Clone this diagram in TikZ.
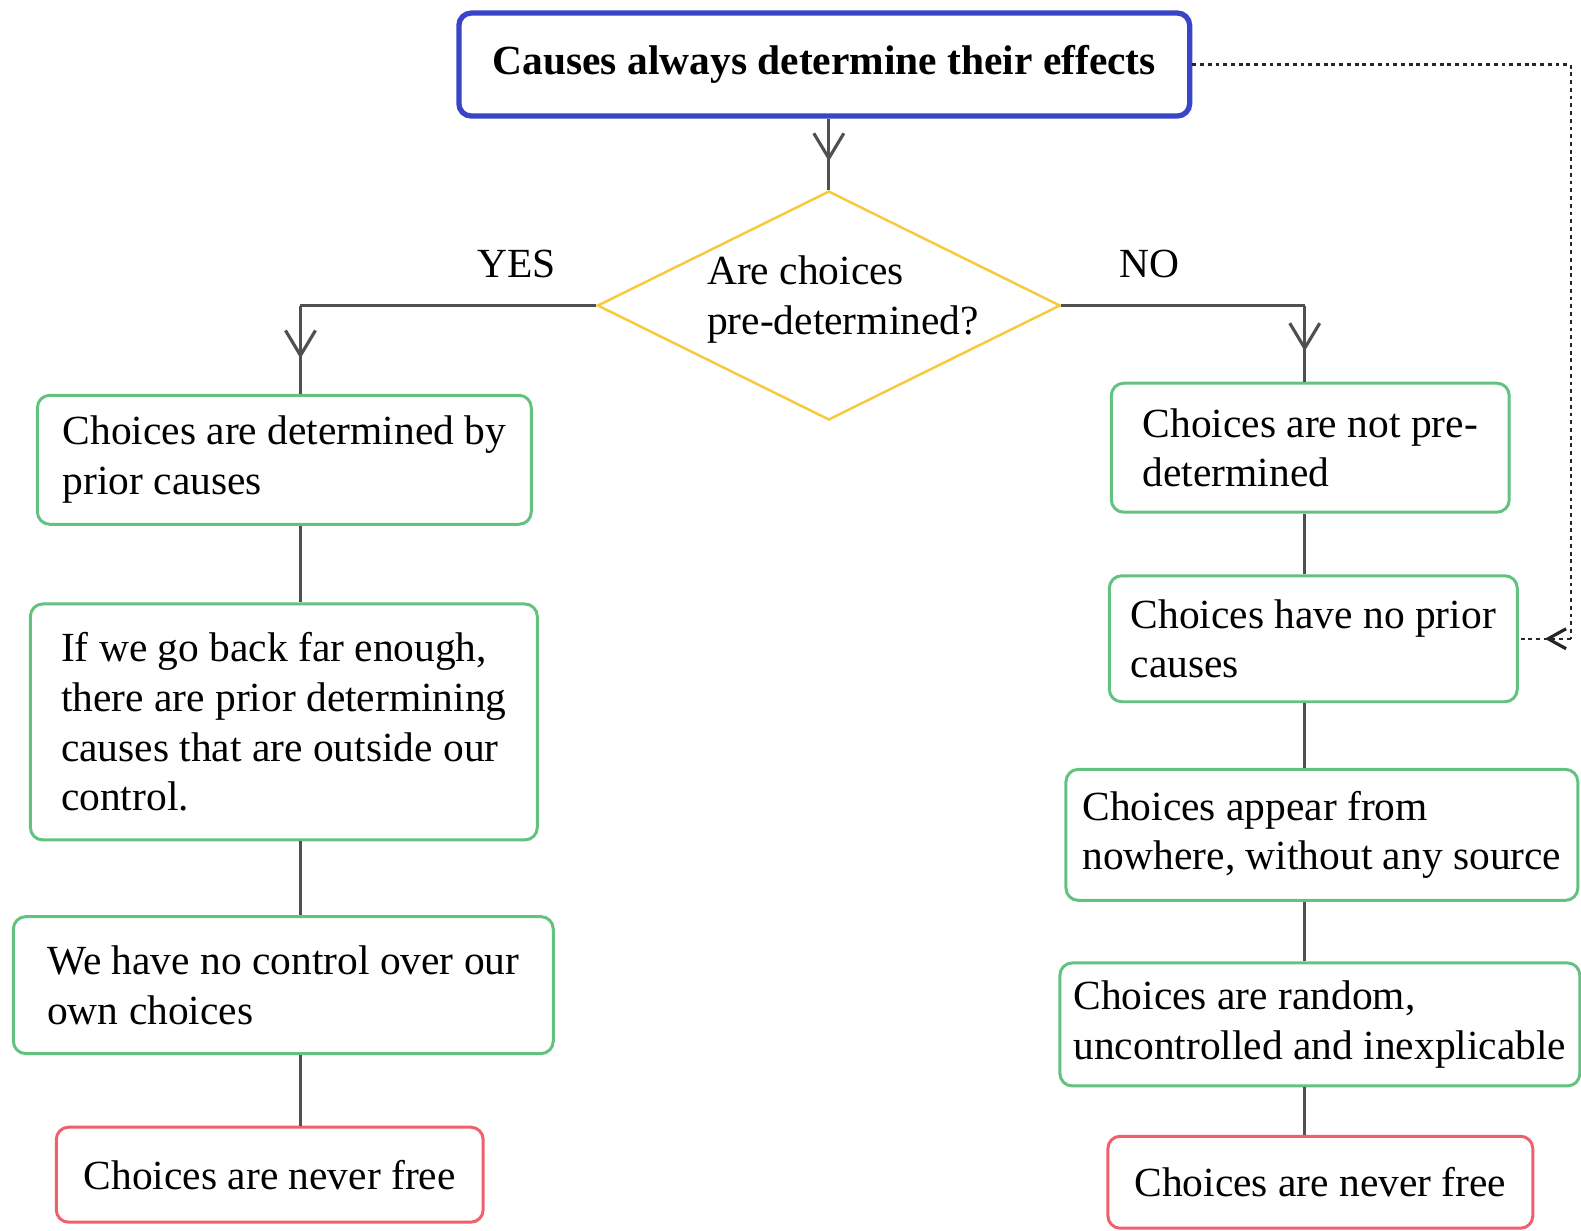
\documentclass[tikz,border=0pt]{standalone}
\usepackage{fontspec}
\setmainfont{Liberation Serif}
\usetikzlibrary{arrows.meta, shapes.geometric, decorations.markings}
\definecolor{causeblue}{RGB}{58,68,200}
\definecolor{boxgreen}{RGB}{99,194,127}
\definecolor{boxred}{RGB}{240,96,106}
\definecolor{askyellow}{RGB}{248,201,60}
\definecolor{linkgray}{RGB}{80,80,80}
\tikzset{
	txt/.style={font={\fontsize{11.8}{14.1}\selectfont}},
	box/.style={txt, draw=boxgreen, line width=0.85pt, rounded corners=3.5pt, align=left, inner sep=1pt},
	endbox/.style={box, draw=boxred},
	topbox/.style={box, draw=causeblue, line width=1.5pt},
	decision/.style={diamond, draw=askyellow, line width=0.7pt, aspect=2, inner sep=0pt},
	link/.style={draw=linkgray, line width=0.9pt},
	dotline/.style={draw=black!85, line width=0.7pt, dash pattern=on 1.1pt off 1.1pt},
	midarrow/.style={postaction={decorate}, decoration={markings,
			mark=at position #1 with {\arrow{Straight Barb[length=2.5mm,width=3mm]}}}},
	midarrow/.default=0.6,
	backarrow/.style={postaction={decorate}, decoration={markings,
			mark=at position #1 with {\arrow{Straight Barb[length=1.8mm,width=2mm,line width=0.9pt]}}}},
	backarrow/.default=0.5,
}
\begin{document}
\begin{tikzpicture}[x=0.010083cm, y=-0.010083cm]
	\useasboundingbox (0,0) rectangle (1568,1220);
	
	\node[topbox, minimum width=7.31cm, minimum height=1.03cm] (cause) at (817.5,64) {\bfseries Causes always determine their effects};
	\node[decision, minimum width=4.63cm, minimum height=2.29cm] (ask) at (822,303) {};
	\node[txt, align=left] (asktxt) at (836,297) {Are choices\\pre-determined?};
	\node[txt] (yeslbl) at (512,262) {YES};
	\node[txt] (nolbl) at (1140,262) {NO};
	
	\coordinate (yes) at (298,303);
	\coordinate (no) at (1294,303);
	\coordinate (rim) at (1558,303);
	
	% YES branch
	\node[box, minimum width=4.94cm, minimum height=1.29cm] (l1) at (282,456) {Choices are determined by\\prior causes};
	\node[box, minimum width=5.07cm, minimum height=2.36cm] (l2) at (281.5,716) {If we go back far enough,\\there are prior determining\\causes that are outside our\\control.};
	\node[box, minimum width=5.40cm, minimum height=1.37cm] (l3) at (281,977) {We have no control over our\\own choices};
	\node[endbox, minimum width=4.27cm, minimum height=0.95cm] (l4) at (267.5,1165) {Choices are never free};
	
	% NO branch
	\node[box, minimum width=3.98cm, minimum height=1.29cm] (r1) at (1299.5,444) {Choices are not pre-\\determined};
	\node[box, minimum width=4.08cm, minimum height=1.26cm] (r2) at (1302.5,633.5) {Choices have no prior\\causes};
	\node[box, minimum width=5.12cm, minimum height=1.31cm] (r3) at (1311,828) {Choices appear from\\nowhere, without any source};
	\node[box, minimum width=5.20cm, minimum height=1.23cm] (r4) at (1309,1016) {Choices are random,\\uncontrolled and inexplicable};
	\node[endbox, minimum width=4.25cm, minimum height=0.92cm] (r5) at (1309.5,1172.5) {Choices are never free};
	
	\draw[link, midarrow] (cause.south -| ask) -- (ask.north);
	
	\draw[link] (ask.west) -- (yes);
	\draw[link, midarrow] (yes) -- (l1.north -| yes);
	\draw[link] (l1.south -| yes) -- (l2.north -| yes);
	\draw[link] (l2.south -| yes) -- (l3.north -| yes);
	\draw[link] (l3.south -| yes) -- (l4.north -| yes);
	
	\draw[link] (ask.east) -- (no);
	\draw[link, midarrow] (no) -- (r1.north -| no);
	\draw[link] (r1.south -| no) -- (r2.north -| no);
	\draw[link] (r2.south -| no) -- (r3.north -| no);
	\draw[link] (r3.south -| no) -- (r4.north -| no);
	\draw[link] (r4.south -| no) -- (r5.north -| no);
	
	\draw[dotline] (cause.east) -- (cause.east -| rim) -- (rim |- r2.east);
	\draw[dotline, backarrow] (rim |- r2.east) -- (r2.east);
\end{tikzpicture}
\end{document}
